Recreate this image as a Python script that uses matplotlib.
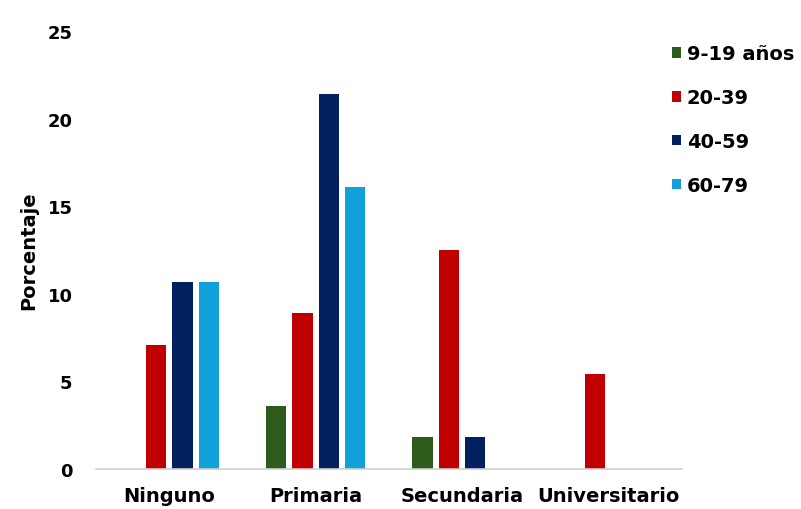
import matplotlib
matplotlib.use("Agg")
import matplotlib.pyplot as plt
import numpy as np

categories = ["Ninguno", "Primaria", "Secundaria", "Universitario"]
series_labels = ["9-19 años", "20-39", "40-59", "60-79"]
age_9_19 = [0.0, 3.6, 1.8, 0.0]
age_20_39 = [7.1, 8.9, 12.5, 5.4]
age_40_59 = [10.7, 21.4, 1.8, 0.0]
age_60_79 = [10.7, 16.1, 0.0, 0.0]
yticks = [0, 5, 10, 15, 20, 25]

colors = ["#2E5A1C", "#C00000", "#002060", "#12A0DA"]
series = [age_9_19, age_20_39, age_40_59, age_60_79]

plt.rcParams["font.family"] = ["DejaVu Sans"]
plt.rcParams["font.weight"] = "bold"

fig = plt.figure(figsize=(8.01, 5.10), dpi=100)
ax = fig.add_axes([0.12, 0.0784, 0.731, 0.859])

x = np.arange(len(categories))
width = 0.138
step = 0.18
offsets = (np.arange(4) - 1.5) * step
for vals, off, col, lab in zip(series, offsets, colors, series_labels):
    ax.bar(x + off, vals, width=width, color=col, label=lab)

ax.set_xlim(-0.5, len(categories) - 0.5)
ax.set_ylim(0, 25)
ax.set_yticks(yticks)
ax.set_xticks(x)
ax.set_xticklabels(categories, fontsize=14, fontweight="bold")
ax.tick_params(axis="y", length=0, pad=17, labelsize=13)
ax.tick_params(axis="x", length=0, pad=12)
for s in ["top", "right", "left"]:
    ax.spines[s].set_visible(False)
ax.spines["bottom"].set_color("#D0D0D0")
ax.spines["bottom"].set_linewidth(1.2)

ax.set_ylabel("Porcentaje", fontsize=14, fontweight="bold", labelpad=7)

leg = fig.legend(loc="upper left", bbox_to_anchor=(0.827, 0.93), frameon=False,
                 fontsize=14, handlelength=0.45, handleheight=0.45,
                 handletextpad=0.3, labelspacing=1.28, borderpad=0)
for t in leg.get_texts():
    t.set_fontweight("bold")

fig.savefig("out.png", dpi=100)
